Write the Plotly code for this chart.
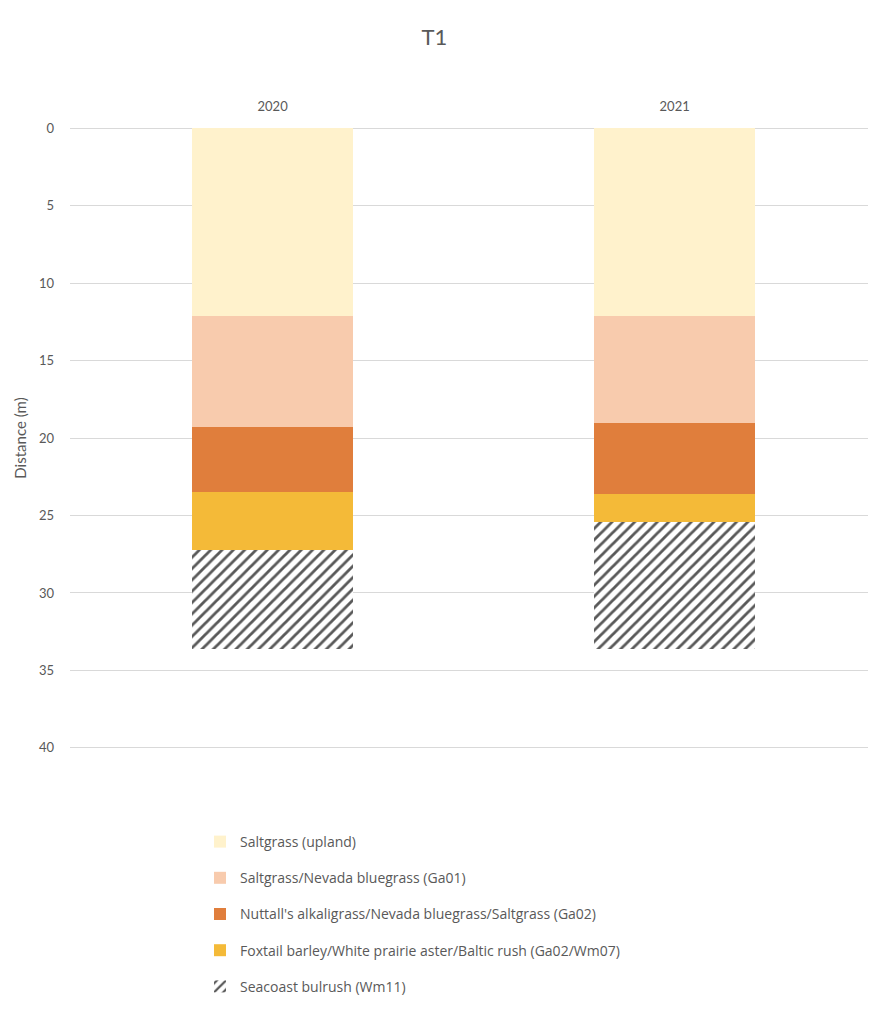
import plotly.graph_objects as go

years = ["2020", "2021"]
series_names = [
    "Saltgrass (upland)",
    "Saltgrass/Nevada bluegrass (Ga01)",
    "Nuttall's alkaligrass/Nevada bluegrass/Saltgrass (Ga02)",
    "Foxtail barley/White prairie aster/Baltic rush (Ga02/Wm07)",
    "Seacoast bulrush (Wm11)",
]
# segment lengths (m) along the transect, per year
saltgrass_upland = [12.1, 12.1]
saltgrass_ga01 = [7.2, 6.9]
nuttall_ga02 = [4.2, 4.6]
foxtail_ga02_wm07 = [3.7, 1.8]
seacoast_wm11 = [6.4, 8.2]
y_ticks = [0, 5, 10, 15, 20, 25, 30, 35, 40]

series_values = [saltgrass_upland, saltgrass_ga01, nuttall_ga02,
                 foxtail_ga02_wm07, seacoast_wm11]
colors = ["#FFF2CC", "#F8CBAD", "#E07E3C", "#F4BA38", "#FFFFFF"]

FONT = "Lato, 'Open Sans', sans-serif"
LEGEND_FONT = "'Open Sans', Lato, sans-serif"
GREY = "#595959"

fig = go.Figure()
for i, (name, vals, col) in enumerate(zip(series_names, series_values, colors)):
    marker = dict(color=col, line=dict(width=0))
    if i == 4:
        marker["pattern"] = dict(shape="/", fgcolor="#595959", bgcolor="#FFFFFF",
                                 size=8, solidity=0.35, fillmode="replace")
    fig.add_trace(go.Bar(
        x=years, y=vals, name=name, marker=marker,
        legendgroup=f"g{i}",
    ))

fig.update_layout(
    barmode="stack",
    bargap=0.6,
    width=869, height=1012,
    margin=dict(l=70, r=1, t=125, b=261),
    paper_bgcolor="white",
    plot_bgcolor="white",
    font=dict(family=FONT, color=GREY, size=13),
    title=dict(text="T1", x=0.5, xanchor="center", y=1 - 37 / 1012,
               yanchor="middle", font=dict(size=22, color=GREY, family=FONT)),
    xaxis=dict(side="top", showgrid=False, showline=False, ticks="",
               range=[-0.504, 1.481],
               tickfont=dict(size=13, color=GREY), ticklabelstandoff=10),
    yaxis=dict(range=[40.2, -0.2], tickvals=y_ticks, showgrid=True,
               gridcolor="#D9D9D9", gridwidth=1, zeroline=False,
               showline=False, ticks="", ticklabelstandoff=15,
               tickfont=dict(size=13, color=GREY),
               title=dict(text="Distance (m)", font=dict(size=15, color=GREY),
                          standoff=8)),
    legend=dict(orientation="v", traceorder="grouped", tracegroupgap=15,
                x=(200 - 70) / 798, xanchor="left",
                y=-(826 - 751) / 626, yanchor="top",
                font=dict(size=14, color=GREY, family=LEGEND_FONT), itemwidth=30),
    showlegend=True,
)

fig.write_html("out.html")
